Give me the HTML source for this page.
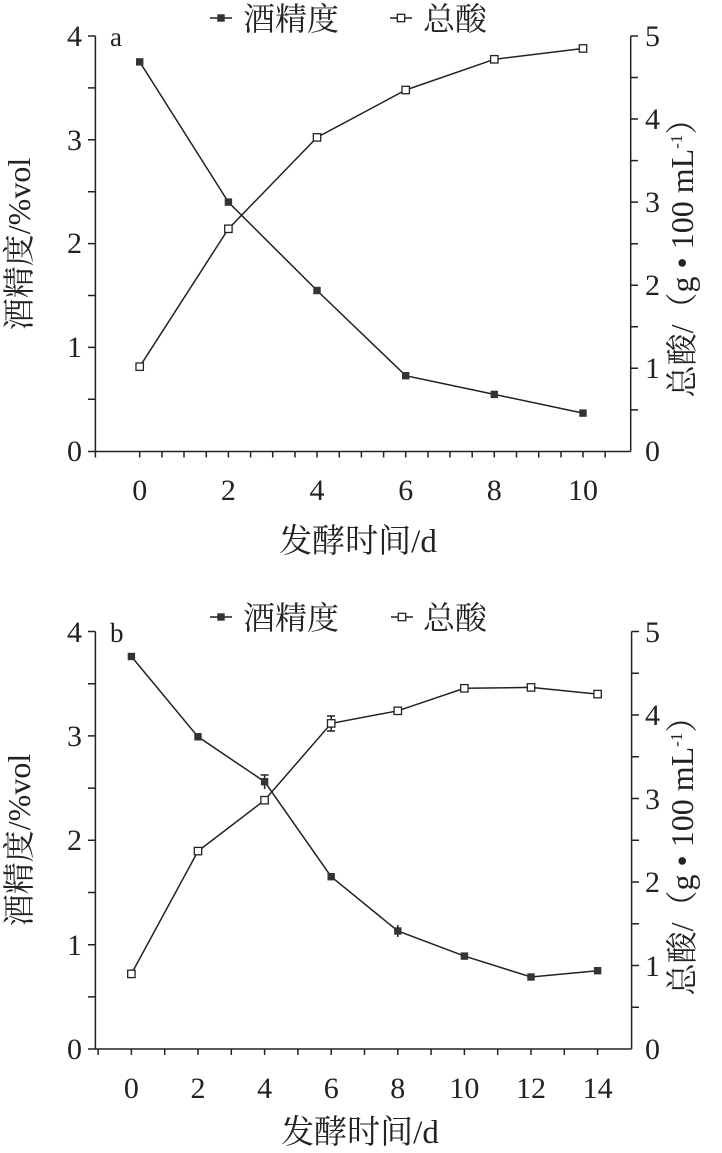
<!DOCTYPE html>
<html><head><meta charset="utf-8"><style>
html,body{margin:0;padding:0;background:#fff;}
svg{display:block;}
text{font-family:"Liberation Serif","Noto Serif CJK SC",serif;fill:#222;}
</style></head><body>
<svg width="722" height="1153" viewBox="0 0 722 1153" xmlns="http://www.w3.org/2000/svg">
<g stroke="#222" stroke-width="1.5" fill="none">
<path d="M95.4 36 V451.5 H630.7 M630.7 451.5 V36"/>
<path d="M88 36H95.4 M88 87.9H95.4 M88 139.8H95.4 M88 191.7H95.4 M88 243.6H95.4 M88 295.5H95.4 M88 347.4H95.4 M88 399.3H95.4 M88 451.5H95.4"/>
<path d="M630.7 36H638 M630.7 77.5H638 M630.7 119H638 M630.7 160.6H638 M630.7 202.1H638 M630.7 243.7H638 M630.7 285.2H638 M630.7 326.8H638 M630.7 368.3H638 M630.7 409.9H638"/>
<path d="M95.4 451.5v6 M139.7 451.5v6 M162 451.5v6 M184 451.5v6 M206.3 451.5v6 M228.4 451.5v6 M250.6 451.5v6 M272.7 451.5v6 M295 451.5v6 M317 451.5v6 M339.3 451.5v6 M361.4 451.5v6 M383.6 451.5v6 M405.7 451.5v6 M428 451.5v6 M450 451.5v6 M472.2 451.5v6 M494.3 451.5v6 M516.5 451.5v6 M538.7 451.5v6 M561 451.5v6 M583 451.5v6 M605.2 451.5v6"/>
<polyline points="139.7,61.9 228.4,202.1 317,290.5 405.7,375.7 494.3,394.4 583,413.1"/>
<polyline points="139.7,366.7 228.4,228.8 317,137.4 405.7,90 494.3,59.3 583,48.5"/>
<path d="M95.4 631.5 V1049 H631.6 M631.6 1049 V631.5"/>
<path d="M88 631.5H95.4 M88 683.7H95.4 M88 735.9H95.4 M88 788.1H95.4 M88 840.3H95.4 M88 892.5H95.4 M88 944.7H95.4 M88 996.9H95.4 M88 1049H95.4"/>
<path d="M631.6 631.5H639 M631.6 673.3H639 M631.6 715H639 M631.6 756.8H639 M631.6 798.5H639 M631.6 840.3H639 M631.6 882H639 M631.6 923.8H639 M631.6 965.5H639 M631.6 1007.3H639"/>
<path d="M98.1 1049v6 M131.4 1049v6 M164.7 1049v6 M198 1049v6 M231.3 1049v6 M264.6 1049v6 M297.9 1049v6 M331.2 1049v6 M364.5 1049v6 M397.8 1049v6 M431.1 1049v6 M464.4 1049v6 M497.7 1049v6 M531 1049v6 M564.3 1049v6 M597.6 1049v6"/>
<polyline points="131.4,656.5 198,736.8 264.6,781.7 331.2,876.7 397.8,931 464.4,956.1 531,977 597.6,970.7"/>
<polyline points="131.4,973.9 198,851.1 264.6,800.2 331.2,723.4 397.8,710.8 464.4,688.3 531,687.4 597.6,694.1"/>
<path d="M331.2 716v15 M327 716h8 M327 731h8 M264.6 775v14 M260.6 775h8 M397.8 925v12"/>
<path d="M210 18H232 M390 18H412 M210 617H232 M391 617H413"/>
</g>
<g fill="#333">
<rect x="136" y="58.2" width="7.4" height="7.4"/><rect x="224.7" y="198.4" width="7.4" height="7.4"/><rect x="313.3" y="286.8" width="7.4" height="7.4"/><rect x="402" y="372" width="7.4" height="7.4"/><rect x="490.6" y="390.7" width="7.4" height="7.4"/><rect x="579.3" y="409.4" width="7.4" height="7.4"/>
<rect x="127.7" y="652.8" width="7.4" height="7.4"/><rect x="194.3" y="733.1" width="7.4" height="7.4"/><rect x="260.9" y="778" width="7.4" height="7.4"/><rect x="327.5" y="873" width="7.4" height="7.4"/><rect x="394.1" y="927.3" width="7.4" height="7.4"/><rect x="460.7" y="952.4" width="7.4" height="7.4"/><rect x="527.3" y="973.3" width="7.4" height="7.4"/><rect x="593.9" y="967" width="7.4" height="7.4"/>
<rect x="217.3" y="14.3" width="7.4" height="7.4"/><rect x="217.3" y="613.3" width="7.4" height="7.4"/>
</g>
<g fill="#fff" stroke="#222" stroke-width="1.3">
<rect x="136" y="363" width="7.4" height="7.4"/><rect x="224.7" y="225.1" width="7.4" height="7.4"/><rect x="313.3" y="133.7" width="7.4" height="7.4"/><rect x="402" y="86.3" width="7.4" height="7.4"/><rect x="490.6" y="55.6" width="7.4" height="7.4"/><rect x="579.3" y="44.8" width="7.4" height="7.4"/>
<rect x="127.7" y="970.2" width="7.4" height="7.4"/><rect x="194.3" y="847.4" width="7.4" height="7.4"/><rect x="260.9" y="796.5" width="7.4" height="7.4"/><rect x="327.5" y="719.7" width="7.4" height="7.4"/><rect x="394.1" y="707.1" width="7.4" height="7.4"/><rect x="460.7" y="684.6" width="7.4" height="7.4"/><rect x="527.3" y="683.7" width="7.4" height="7.4"/><rect x="593.9" y="690.4" width="7.4" height="7.4"/>
<rect x="397.3" y="14.3" width="7.4" height="7.4"/><rect x="398.3" y="613.3" width="7.4" height="7.4"/>
</g>
<g font-size="30">
<text x="243" y="30" font-size="32">酒精度</text><text x="423" y="30" font-size="32">总酸</text>
<text x="110" y="46" font-size="27">a</text>
<g text-anchor="end"><text x="82" y="46">4</text><text x="82" y="150">3</text><text x="82" y="253">2</text><text x="82" y="357">1</text><text x="82" y="461">0</text></g>
<g><text x="645" y="46">5</text><text x="645" y="129">4</text><text x="645" y="212">3</text><text x="645" y="295">2</text><text x="645" y="378">1</text><text x="645" y="461">0</text></g>
<g text-anchor="middle"><text x="139.7" y="500">0</text><text x="228.4" y="500">2</text><text x="317" y="500">4</text><text x="405.7" y="500">6</text><text x="494.3" y="500">8</text><text x="583" y="500">10</text></g>
<text x="358" y="552" text-anchor="middle" font-size="33">发酵时间/d</text>
<text transform="translate(30,244) rotate(-90)" text-anchor="middle" font-size="32">酒精度/%vol</text>
<text transform="translate(693,250) rotate(-90)" text-anchor="middle" font-size="32">总酸/（g • 100 mL<tspan font-size="17" dy="-11">-1</tspan><tspan dy="11">）</tspan></text>
</g>
<g font-size="30">
<text x="243" y="629" font-size="32">酒精度</text><text x="423" y="629" font-size="32">总酸</text>
<text x="110" y="642" font-size="27">b</text>
<g text-anchor="end"><text x="82" y="642">4</text><text x="82" y="746">3</text><text x="82" y="850">2</text><text x="82" y="955">1</text><text x="82" y="1059">0</text></g>
<g><text x="645" y="642">5</text><text x="645" y="725">4</text><text x="645" y="809">3</text><text x="645" y="892">2</text><text x="645" y="976">1</text><text x="645" y="1059">0</text></g>
<g text-anchor="middle"><text x="131.4" y="1098">0</text><text x="198" y="1098">2</text><text x="264.6" y="1098">4</text><text x="331.2" y="1098">6</text><text x="397.8" y="1098">8</text><text x="464.4" y="1098">10</text><text x="531" y="1098">12</text><text x="597.6" y="1098">14</text></g>
<text x="360" y="1143" text-anchor="middle" font-size="33">发酵时间/d</text>
<text transform="translate(30,840) rotate(-90)" text-anchor="middle" font-size="32">酒精度/%vol</text>
<text transform="translate(693,848) rotate(-90)" text-anchor="middle" font-size="32">总酸/（g • 100 mL<tspan font-size="17" dy="-11">-1</tspan><tspan dy="11">）</tspan></text>
</g>
</svg>
</body></html>
